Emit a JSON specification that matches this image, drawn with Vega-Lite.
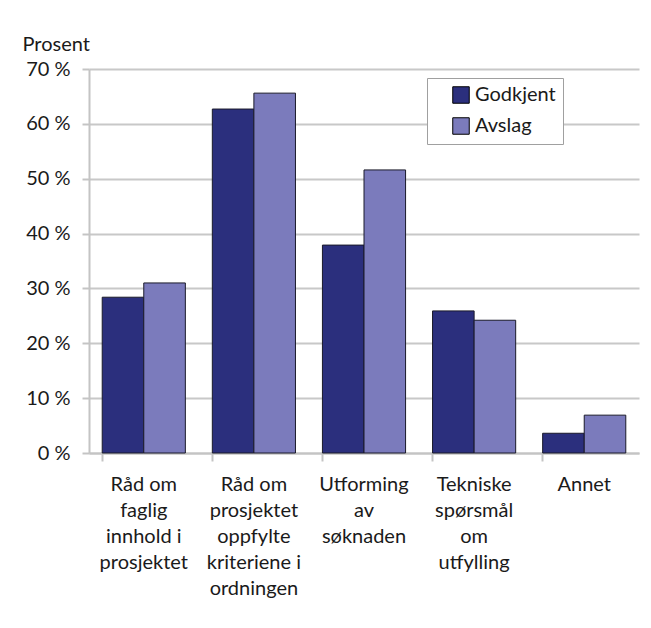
{
  "$schema": "https://vega.github.io/schema/vega-lite/v6.json",
  "width": 550,
  "height": 384,
  "autosize": "none",
  "padding": {"left": 89, "top": 69, "right": 12, "bottom": 175},
  "background": "white",
  "data": {
    "values": [
      {"kategori": "Råd om|faglig|innhold i|prosjektet", "serie": "Godkjent", "verdi": 28.4},
      {"kategori": "Råd om|faglig|innhold i|prosjektet", "serie": "Avslag", "verdi": 31.0},
      {"kategori": "Råd om|prosjektet|oppfylte|kriteriene i|ordningen", "serie": "Godkjent", "verdi": 62.7},
      {"kategori": "Råd om|prosjektet|oppfylte|kriteriene i|ordningen", "serie": "Avslag", "verdi": 65.6},
      {"kategori": "Utforming|av|søknaden", "serie": "Godkjent", "verdi": 37.9},
      {"kategori": "Utforming|av|søknaden", "serie": "Avslag", "verdi": 51.6},
      {"kategori": "Tekniske|spørsmål|om|utfylling", "serie": "Godkjent", "verdi": 25.9},
      {"kategori": "Tekniske|spørsmål|om|utfylling", "serie": "Avslag", "verdi": 24.2},
      {"kategori": "Annet", "serie": "Godkjent", "verdi": 3.6},
      {"kategori": "Annet", "serie": "Avslag", "verdi": 6.9}
    ]
  },
  "config": {
    "font": "Lato",
    "view": {"stroke": null},
    "axis": {"labelFont": "Lato", "titleFont": "Lato"},
    "legend": {"labelFont": "Lato", "strokeColor": "#a0a0a0"}
  },
  "mark": {"type": "bar", "stroke": "#1a1a2a", "strokeWidth": 1},
  "encoding": {
    "x": {
      "field": "kategori",
      "type": "nominal",
      "sort": null,
      "scale": {"paddingInner": 0.245, "paddingOuter": 0.12},
      "axis": {
        "title": null,
        "labelAngle": 0,
        "labelExpr": "split(datum.label, '|')",
        "labelFontSize": 20,
        "labelColor": "#1a1a1a",
        "labelLineHeight": 26,
        "labelPadding": 13,
        "labelBaseline": "top",
        "domainColor": "#c4c4c4",
        "domainWidth": 2,
        "tickColor": "#c4c4c4",
        "tickWidth": 2,
        "tickSize": 8,
        "bandPosition": 0,
        "grid": false
      }
    },
    "xOffset": {"field": "serie", "type": "nominal", "sort": ["Godkjent", "Avslag"]},
    "y": {
      "field": "verdi",
      "type": "quantitative",
      "scale": {"domain": [0, 70], "nice": false},
      "axis": {
        "values": [0, 10, 20, 30, 40, 50, 60, 70],
        "labelExpr": "datum.value + ' %'",
        "labelFontSize": 20,
        "labelColor": "#1a1a1a",
        "labelPadding": 12,
        "title": "Prosent",
        "titleAngle": 0,
        "titleAlign": "left",
        "titleBaseline": "alphabetic",
        "titleX": -67,
        "titleY": -19,
        "titleFontSize": 20,
        "titleFontWeight": "normal",
        "titleColor": "#1a1a1a",
        "domainColor": "#c4c4c4",
        "domainWidth": 2,
        "tickColor": "#c4c4c4",
        "tickWidth": 2,
        "tickSize": 7,
        "gridColor": "#c8c8c8",
        "gridWidth": 2
      }
    },
    "color": {
      "field": "serie",
      "type": "nominal",
      "sort": ["Godkjent", "Avslag"],
      "scale": {"domain": ["Godkjent", "Avslag"], "range": ["#2b2f7d", "#7b7bbc"]},
      "legend": {
        "title": null,
        "orient": "none",
        "legendX": 338,
        "legendY": 9,
        "symbolType": "square",
        "symbolSize": 272,
        "symbolOffset": 17,
        "symbolStrokeColor": "#000000",
        "symbolStrokeWidth": 1,
        "labelFontSize": 20,
        "labelColor": "#1a1a1a",
        "labelOffset": 4,
        "labelExpr": "datum.label + '\u00a0\u00a0\u00a0\u00a0\u00a0'",
        "rowPadding": 9,
        "padding": 7,
        "strokeColor": "#a0a0a0",
        "fillColor": "white",
        "offset": 0
      }
    }
  }
}
